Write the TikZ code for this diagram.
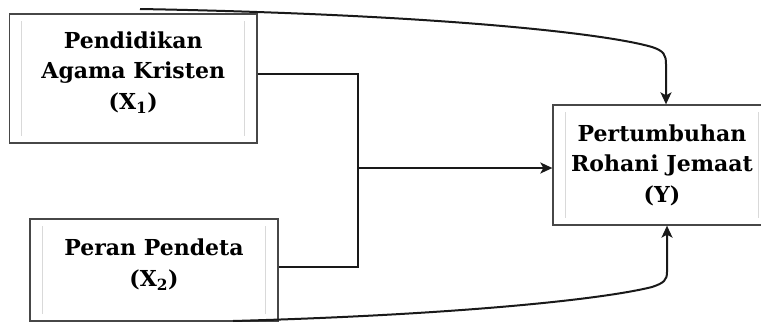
\documentclass[tikz,border=0pt]{standalone}
\usepackage{fontspec}
\setmainfont{DejaVu Serif}
\usetikzlibrary{math}
\usetikzlibrary{arrows.meta}

\begin{document}
\begin{tikzpicture}[x=1pt,y=-1pt,
  varbox/.style={draw=black!72,line width=1.3pt,inner sep=0pt},
  vartext/.style={align=center,font=\fontsize{22}{30.5}\selectfont\bfseries},
  guide/.style={draw=black!15,line width=1pt},
  link/.style={draw=black!90,line width=2pt},
  tip/.style={-{Stealth[length=12pt,width=11pt,inset=3pt]}}]
%%%% frame
\useasboundingbox (0,0) rectangle (761,322);
\tikzmath{
\gx=13;
\gy=8;
\jx=358;
\jy=168;
}
%%%%%% boxes
\node[varbox,minimum width=247.5pt,minimum height=129pt] (x1) at (133.25,78.5) {};
\node[varbox,minimum width=248pt,minimum height=102pt] (x2) at (154,270) {};
\node[varbox,minimum width=218pt,minimum height=120pt] (y) at (662,165) {};
%%%%%% faint inner rules
\foreach \b in {x1,x2,y} {
    \draw[guide] ([xshift=\gx pt,yshift=-\gy pt]\b.north west) -- ([xshift=\gx pt,yshift=\gy pt]\b.south west);
    \draw[guide] ([xshift=-\gx pt,yshift=-\gy pt]\b.north east) -- ([xshift=-\gx pt,yshift=\gy pt]\b.south east);
}
%%%%%% texts
\node[vartext] (x1t) at ([yshift=6pt]x1.center) {Pendidikan\\Agama Kristen\\(X\textsubscript{1})};
\node[vartext] (x2t) at ([yshift=5pt]x2.center) {Peran Pendeta\\(X\textsubscript{2})};
\node[vartext] (yt) at (y.center) {Pertumbuhan\\Rohani Jemaat\\(Y)};
%%%% joint of X1 and X2
\coordinate (jn) at (\jx,\jy);
\draw[link] ([yshift=5pt]x1.east) -| (jn) |- ([yshift=3pt]x2.east);
\draw[link,tip] (jn) -- (jn -| y.west);
%%%% top curve X1 -> Y
\coordinate (ta) at (140,9);
\draw[link,tip] (ta) .. controls (420,14) and (600,32) .. (652,47) .. controls (664,51) and (666,55) .. (666,64) -- ([xshift=4pt]y.north);
%%%% bottom curve X2 -> Y
\coordinate (ba) at (233,321);
\draw[link,tip] (ba) .. controls (450,315) and (600,300) .. (652,287) .. controls (664,283) and (667,280) .. (667,272) -- ([xshift=5pt]y.south);
\end{tikzpicture}
\end{document}
